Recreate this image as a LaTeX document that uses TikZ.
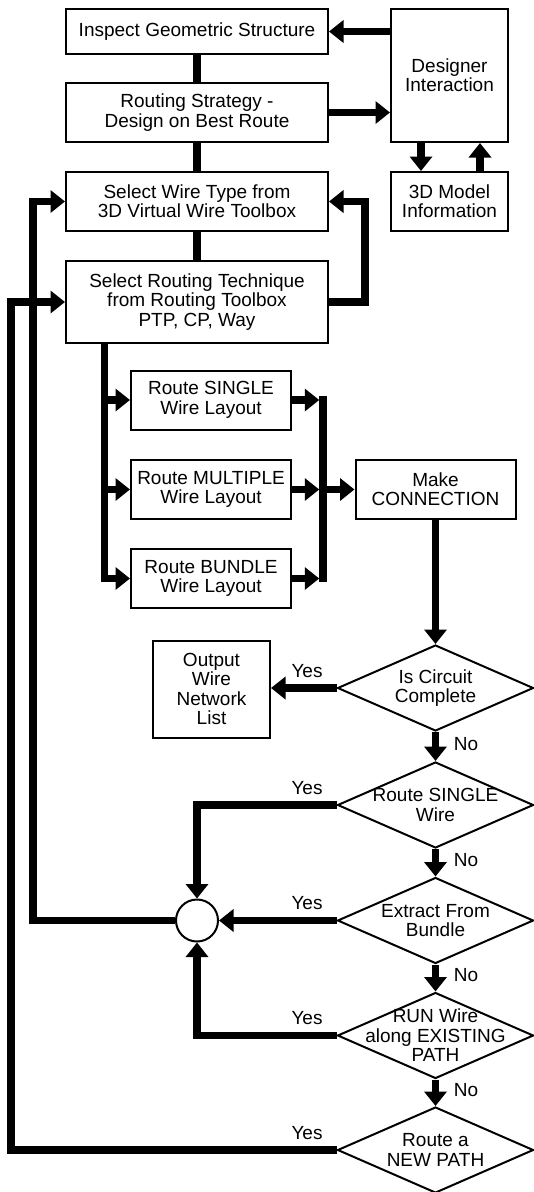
\documentclass[tikz,border=0pt]{standalone}
\usepackage{fontspec}
\setmainfont{Liberation Sans}
\usetikzlibrary{arrows.meta,shapes.geometric,calc}
\begin{document}
\begin{tikzpicture}[x=1pt,y=-1pt,
  box/.style={draw=black, line width=2pt, rectangle, inner sep=0pt, align=center, font=\fontsize{19}{19.4}\selectfont},
  dia/.style={draw=black, line width=2pt, diamond, minimum width=196pt, minimum height=86pt, inner sep=0pt},
  txt/.style={align=center, inner sep=0pt, font=\fontsize{19}{19.4}\selectfont},
  ln/.style={line width=7.5pt},
  arr/.style={line width=7.5pt, -{Triangle[length=14.5pt,width=22pt]}},
]
\useasboundingbox (0,0) rectangle (534,1192);
% boxes
\node[box, minimum width=262pt, minimum height=45pt] (inspect) at (197,31.5) {Inspect Geometric Structure};
\node[box, minimum width=262pt, minimum height=59pt] (strategy) at (197,112.5) {Routing Strategy -\\Design on Best Route};
\node[box, minimum width=262pt, minimum height=59pt] (wiretype) at (197,201.5) {Select Wire Type from\\3D Virtual Wire Toolbox};
\node[box, minimum width=262pt, minimum height=82pt] (technique) at (197,302) {Select Routing Technique\\from Routing Toolbox\\PTP, CP, Way};
\node[box, minimum width=117pt, minimum height=133pt] (designer) at (449.5,75.5) {Designer\\Interaction};
\node[box, minimum width=117pt, minimum height=59pt] (model) at (449.5,201.5) {3D Model\\Information};
\node[box, minimum width=160pt, minimum height=59pt] (single) at (211,400) {Route SINGLE\\Wire Layout};
\node[box, minimum width=160pt, minimum height=59pt] (multiple) at (211,489.5) {Route MULTIPLE\\Wire Layout};
\node[box, minimum width=160pt, minimum height=59pt] (bundle) at (211,578.5) {Route BUNDLE\\Wire Layout};
\node[box, minimum width=160pt, minimum height=59pt] (connection) at (435.5,489.5) {Make\\CONNECTION};
\node[box, minimum width=117pt, minimum height=97pt] (output) at (211.5,689) {Output\\Wire\\Network\\List};
\node[draw=black, circle, line width=2pt, minimum size=42pt, inner sep=0pt] (circ) at (197,920.5) {};
% diamonds
\node[dia] (d1) at (435.5,688) {};
\node[dia] (d2) at (435.5,805) {};
\node[dia] (d3) at (435.5,920.5) {};
\node[dia] (d4) at (435.5,1035.5) {};
\node[dia] (d5) at (435.5,1150) {};
\node[txt] (t1) at (d1) {Is Circuit\\Complete};
\node[txt] (t2) at (d2) {Route SINGLE\\Wire};
\node[txt] (t3) at (d3) {Extract From\\Bundle};
\node[txt] (t4) at (d4) {RUN Wire\\along EXISTING\\PATH};
\node[txt] (t5) at (d5) {Route a\\NEW PATH};
% labels
\node[txt] (y1) at (307,671) {Yes};
\node[txt] (y2) at (307,788) {Yes};
\node[txt] (y3) at (307,903.5) {Yes};
\node[txt] (y4) at (307,1018.5) {Yes};
\node[txt] (y5) at (307,1133) {Yes};
\node[txt] (n1) at (466,744) {No};
\node[txt] (n2) at (466,860) {No};
\node[txt] (n3) at (466,975) {No};
\node[txt] (n4) at (466,1090) {No};
% connectors top
\draw[ln] (inspect.south) -- (strategy.north);
\draw[ln] (strategy.south) -- (wiretype.north);
\draw[ln] (wiretype.south) -- (technique.north);
\draw[arr] (designer.west |- inspect.east) -- (inspect.east);
\draw[arr] (strategy.east) -- (designer.west |- strategy.east);
\draw[arr] ([xshift=-28.5pt]designer.south) -- ([xshift=-28.5pt]model.north);
\draw[arr] ([xshift=30.5pt]model.north) -- ([xshift=30.5pt]designer.south);
\draw[arr] (technique.east) -- ++(36,0) |- (wiretype.east);
% branches
\coordinate (tb) at ([xshift=-92.5pt]technique.south);
\draw[arr] (tb) |- (bundle.west);
\draw[arr] (tb |- single.west) -- (single.west);
\draw[arr] (tb |- multiple.west) -- (multiple.west);
\coordinate (bar) at (323,489.5);
\draw[ln] ($(bar |- single.east)+(0,-3.75)$) -- ($(bar |- bundle.east)+(0,3.75)$);
\draw[arr] (single.east) -- ($(bar |- single.east)+(-3.75,0)$);
\draw[arr] (multiple.east) -- ($(bar |- multiple.east)+(-3.75,0)$);
\draw[arr] (bundle.east) -- ($(bar |- bundle.east)+(-3.75,0)$);
\draw[arr] (bar |- connection.west) -- (connection.west);
% decisions
\draw[arr] (connection.south) -- (d1.north);
\draw[arr] (d1.west) -- (output.east |- d1.west);
\draw[arr] (d1.south) -- (d2.north);
\draw[arr] (d2.south) -- (d3.north);
\draw[arr] (d3.south) -- (d4.north);
\draw[arr] (d4.south) -- (d5.north);
\draw[arr] (d2.west) -| (circ.north);
\draw[arr] (d3.west) -- (circ.east);
\draw[arr] (d4.west) -| (circ.south);
\draw[arr] (circ.west) -- ++(-142,0) |- (wiretype.west);
\draw[arr] (d5.west) -- ++(-325.5,0) |- (technique.west);
\end{tikzpicture}
\end{document}
